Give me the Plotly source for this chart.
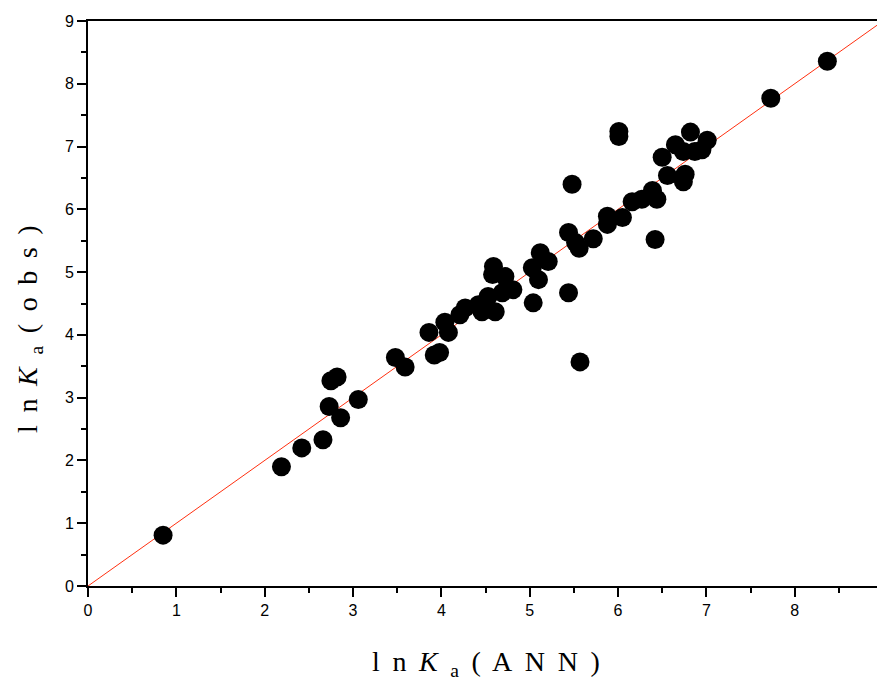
import plotly.graph_objects as go

# ln Ka predicted by ANN vs observed
ln_ka_ann = [0.85, 2.19, 2.42, 2.66, 2.73, 2.75, 2.82, 2.86, 3.06, 3.48,
             3.59, 3.86, 3.92, 3.98, 4.04, 4.08, 4.21, 4.27, 4.42, 4.46,
             4.53, 4.59, 4.58, 4.61, 4.69, 4.72, 4.81, 5.03, 5.04, 5.10,
             5.12, 5.21, 5.44, 5.44, 5.48, 5.52, 5.56, 5.57, 5.72, 5.88,
             5.88, 6.01, 6.01, 6.05, 6.16, 6.27, 6.39, 6.44, 6.42, 6.50,
             6.56, 6.65, 6.74, 6.76, 6.74, 6.82, 6.87, 6.95, 7.01, 7.73,
             8.37]
ln_ka_obs = [0.81, 1.90, 2.20, 2.33, 2.86, 3.27, 3.33, 2.68, 2.97, 3.64,
             3.49, 4.04, 3.68, 3.72, 4.20, 4.04, 4.32, 4.43, 4.48, 4.37,
             4.61, 5.09, 4.96, 4.37, 4.67, 4.93, 4.72, 5.07, 4.51, 4.88,
             5.31, 5.17, 5.63, 4.67, 6.40, 5.47, 5.38, 3.57, 5.53, 5.89,
             5.76, 7.24, 7.16, 5.87, 6.12, 6.16, 6.30, 6.16, 5.52, 6.83,
             6.54, 7.03, 6.92, 6.56, 6.44, 7.23, 6.92, 6.95, 7.10, 7.77,
             8.36]
ideal_line = [0, 9]

sp = '\u2009 '
x_title = sp.join(['l', 'n', '<i>K</i>', '<sub>a</sub>', '(', 'A', 'N', 'N', ')'])
y_title = sp.join(['l', 'n', '<i>K</i>', '<sub>a</sub>', '(', 'o', 'b', 's', ')'])

fig = go.Figure()
fig.add_trace(go.Scatter(x=ideal_line, y=ideal_line, mode='lines',
                         line=dict(color='#ff3010', width=1), hoverinfo='skip'))
fig.add_trace(go.Scatter(x=ln_ka_ann, y=ln_ka_obs, mode='markers',
                         marker=dict(color='black', size=19, line=dict(width=0))))

tick_font = dict(family='Liberation Sans, Arial', size=16, color='black')
title_font = dict(family='Liberation Serif, Times New Roman', size=28, color='black')

axis_style = dict(range=[0, 9], dtick=1, showgrid=False, zeroline=False,
                  showline=True, linecolor='black', linewidth=2, automargin=False,
                  ticks='outside', ticklen=9, tickwidth=2, tickcolor='black',
                  minor=dict(dtick=0.5, ticks='outside', ticklen=5, tickwidth=1.5,
                             tickcolor='black'),
                  tickfont=tick_font, ticklabeloverflow='allow')
fig.update_xaxes(mirror=True, **axis_style)
fig.update_yaxes(**axis_style)

fig.add_annotation(text=x_title, xref='paper', yref='paper', x=0.5, y=-0.137,
                   showarrow=False, font=title_font, xanchor='center', yanchor='middle')
fig.add_annotation(text=y_title, xref='paper', yref='paper', x=-0.073, y=0.455,
                   showarrow=False, font=title_font, textangle=-90,
                   xanchor='center', yanchor='middle')

# page has an 8px body margin, so size the figure to fit the window
fig.update_layout(width=877, height=672, showlegend=False,
                  plot_bgcolor='white', paper_bgcolor='white',
                  margin=dict(l=80, r=2, t=13, b=94))

fig.write_html("out.html")
